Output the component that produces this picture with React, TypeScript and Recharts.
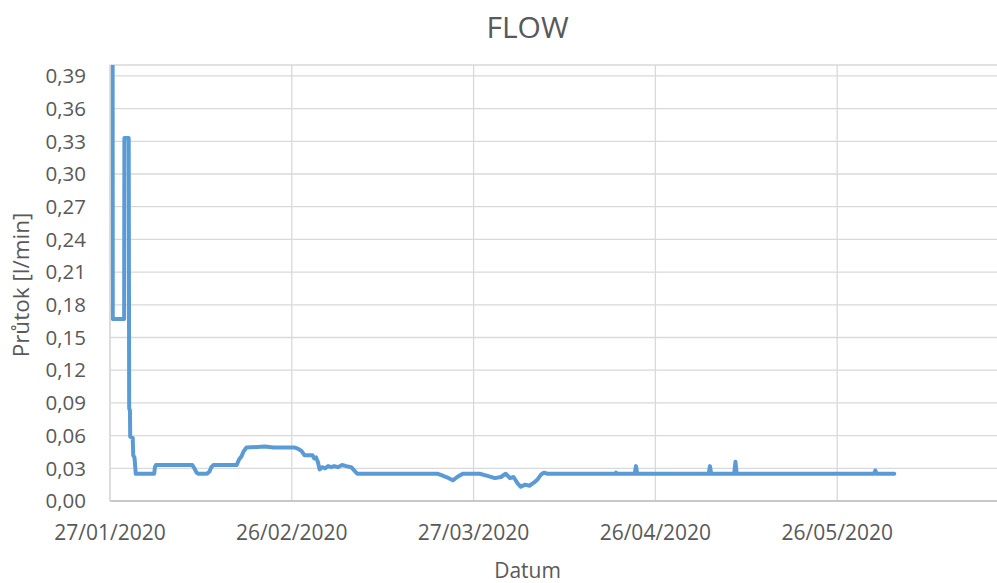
import { LineChart, Line, XAxis, YAxis, CartesianGrid } from "recharts";

// flow meter readings (timestamp, l/min)
const times = [
  "2020-01-27 10:00", "2020-01-27 11:00", "2020-01-29 08:00", "2020-01-29 09:00",
  "2020-01-30 02:00", "2020-01-30 04:00", "2020-01-30 07:00", "2020-01-30 08:00",
  "2020-01-30 18:00", "2020-01-30 20:00", "2020-01-31 01:00", "2020-01-31 06:00",
  "2020-02-03 07:00", "2020-02-03 10:00", "2020-02-03 14:00", "2020-02-09 14:00",
  "2020-02-09 22:00", "2020-02-10 07:00", "2020-02-10 14:00", "2020-02-12 00:00",
  "2020-02-12 10:00", "2020-02-12 17:00", "2020-02-13 02:00", "2020-02-16 22:00",
  "2020-02-17 07:00", "2020-02-17 17:00", "2020-02-18 00:00", "2020-02-18 12:00",
  "2020-02-21 12:00", "2020-02-23 00:00", "2020-02-26 12:00", "2020-02-27 00:00",
  "2020-02-27 14:00", "2020-02-28 02:00", "2020-02-29 10:00", "2020-02-29 17:00",
  "2020-03-01 00:00", "2020-03-01 07:00", "2020-03-01 14:00", "2020-03-02 00:00",
  "2020-03-02 12:00", "2020-03-03 00:00", "2020-03-03 12:00", "2020-03-04 00:00",
  "2020-03-04 14:00", "2020-03-05 07:00", "2020-03-06 00:00", "2020-03-06 19:00",
  "2020-03-07 07:00", "2020-03-07 19:00", "2020-03-21 00:00", "2020-03-21 14:00",
  "2020-03-22 12:00", "2020-03-23 14:00", "2020-03-24 07:00", "2020-03-25 05:00",
  "2020-03-28 00:00", "2020-03-29 07:00", "2020-03-30 12:00", "2020-03-31 12:00",
  "2020-04-01 07:00", "2020-04-02 00:00", "2020-04-02 14:00", "2020-04-03 07:00",
  "2020-04-03 19:00", "2020-04-04 12:00", "2020-04-05 05:00", "2020-04-06 00:00",
  "2020-04-06 14:00", "2020-04-07 02:00", "2020-04-07 14:00", "2020-04-08 05:00",
  "2020-04-19 10:00", "2020-04-19 12:00", "2020-04-19 14:00", "2020-04-22 14:00",
  "2020-04-22 19:00", "2020-04-23 00:00", "2020-05-04 19:00", "2020-05-05 00:00",
  "2020-05-05 05:00", "2020-05-09 00:00", "2020-05-09 05:00", "2020-05-09 10:00",
  "2020-06-01 02:00", "2020-06-01 07:00", "2020-06-01 12:00", "2020-06-04 10:00",
];

const flows = [
  0.55, 0.167, 0.167, 0.333,
  0.333, 0.085, 0.083, 0.059,
  0.058, 0.042, 0.040, 0.025,
  0.025, 0.031, 0.033, 0.033,
  0.030, 0.026, 0.025, 0.025,
  0.027, 0.031, 0.033, 0.033,
  0.038, 0.041, 0.045, 0.049,
  0.050, 0.049, 0.049, 0.048,
  0.046, 0.042, 0.042, 0.039,
  0.040, 0.036, 0.029, 0.031,
  0.030, 0.032, 0.031, 0.032,
  0.031, 0.033, 0.032, 0.031,
  0.028, 0.025, 0.025, 0.024,
  0.022, 0.019, 0.022, 0.025,
  0.025, 0.023, 0.021, 0.022,
  0.025, 0.021, 0.022, 0.016,
  0.013, 0.015, 0.014, 0.017,
  0.020, 0.024, 0.026, 0.025,
  0.025, 0.026, 0.025, 0.025,
  0.032, 0.025, 0.025, 0.032,
  0.025, 0.025, 0.036, 0.025,
  0.025, 0.028, 0.025, 0.025,
];

const xTickDates = ["2020-01-27", "2020-02-26", "2020-03-27", "2020-04-26", "2020-05-26"];
const xDomainDates = ["2020-01-27", "2020-06-25"];
const yTicks = [0, 0.03, 0.06, 0.09, 0.12, 0.15, 0.18, 0.21, 0.24, 0.27, 0.3, 0.33, 0.36, 0.39];

const toMs = (s: string) => Date.parse(s.replace(" ", "T") + (s.length > 10 ? "Z" : "T00:00Z"));

const data = times.map((t, i) => ({ t: toMs(t), flow: flows[i] }));

const pad = (n: number) => String(n).padStart(2, "0");
const fmtDate = (v: number) => {
  const d = new Date(v);
  return `${pad(d.getUTCDate())}/${pad(d.getUTCMonth() + 1)}/${d.getUTCFullYear()}`;
};

const textColor = "#595959";
const font = "'Open Sans', sans-serif";

export default function App() {
  return (
    <div
      style={{
        position: "absolute",
        left: 0,
        top: 0,
        width: 997,
        height: 583,
        overflow: "hidden",
        background: "#fff",
        fontFamily: font,
      }}
    >
      <div style={{ position: "absolute", left: 0, width: 1055, top: 6, textAlign: "center", fontSize: 30, color: textColor }}>
        FLOW
      </div>
      <div
        style={{
          position: "absolute",
          left: 0,
          width: 1055,
          top: 560,
          textAlign: "center",
          fontSize: 21,
          lineHeight: "21px",
          color: textColor,
        }}
      >
        Datum
      </div>
      <div
        style={{
          position: "absolute",
          left: 20,
          top: 285,
          transform: "translate(-50%, -50%) rotate(-90deg)",
          whiteSpace: "nowrap",
          fontSize: 22.5,
          color: textColor,
        }}
      >
        Průtok [l/min]
      </div>

      <LineChart
        width={1040}
        height={583}
        data={data}
        margin={{ top: 65, right: 21, bottom: 0, left: 0 }}
        style={{ position: "absolute", left: 0, top: 0 }}
      >
        <CartesianGrid stroke="#D9D9D9" strokeWidth={1.3} />
        <XAxis
          dataKey="t"
          type="number"
          domain={xDomainDates.map(toMs)}
          ticks={xTickDates.map(toMs)}
          tickFormatter={fmtDate}
          allowDataOverflow
          height={82}
          tickLine={false}
          tickSize={0}
          tickMargin={24}
          axisLine={{ stroke: "#BFBFBF", strokeWidth: 1.5 }}
          tick={{ fill: textColor, fontSize: 21, fontFamily: font }}
        />
        <YAxis
          type="number"
          domain={[0, 0.4]}
          ticks={yTicks}
          allowDataOverflow
          width={110}
          tickLine={false}
          tickSize={0}
          tickMargin={24}
          axisLine={{ stroke: "#D9D9D9", strokeWidth: 1.3 }}
          tickFormatter={(v: number) => v.toFixed(2).replace(".", ",")}
          tick={{ fill: textColor, fontSize: 20.5, fontFamily: font }}
        />
        <Line
          type="linear"
          dataKey="flow"
          stroke="#5B9BD5"
          strokeWidth={4}
          strokeLinejoin="round"
          strokeLinecap="round"
          dot={false}
          activeDot={false}
          isAnimationActive={false}
        />
      </LineChart>
    </div>
  );
}
